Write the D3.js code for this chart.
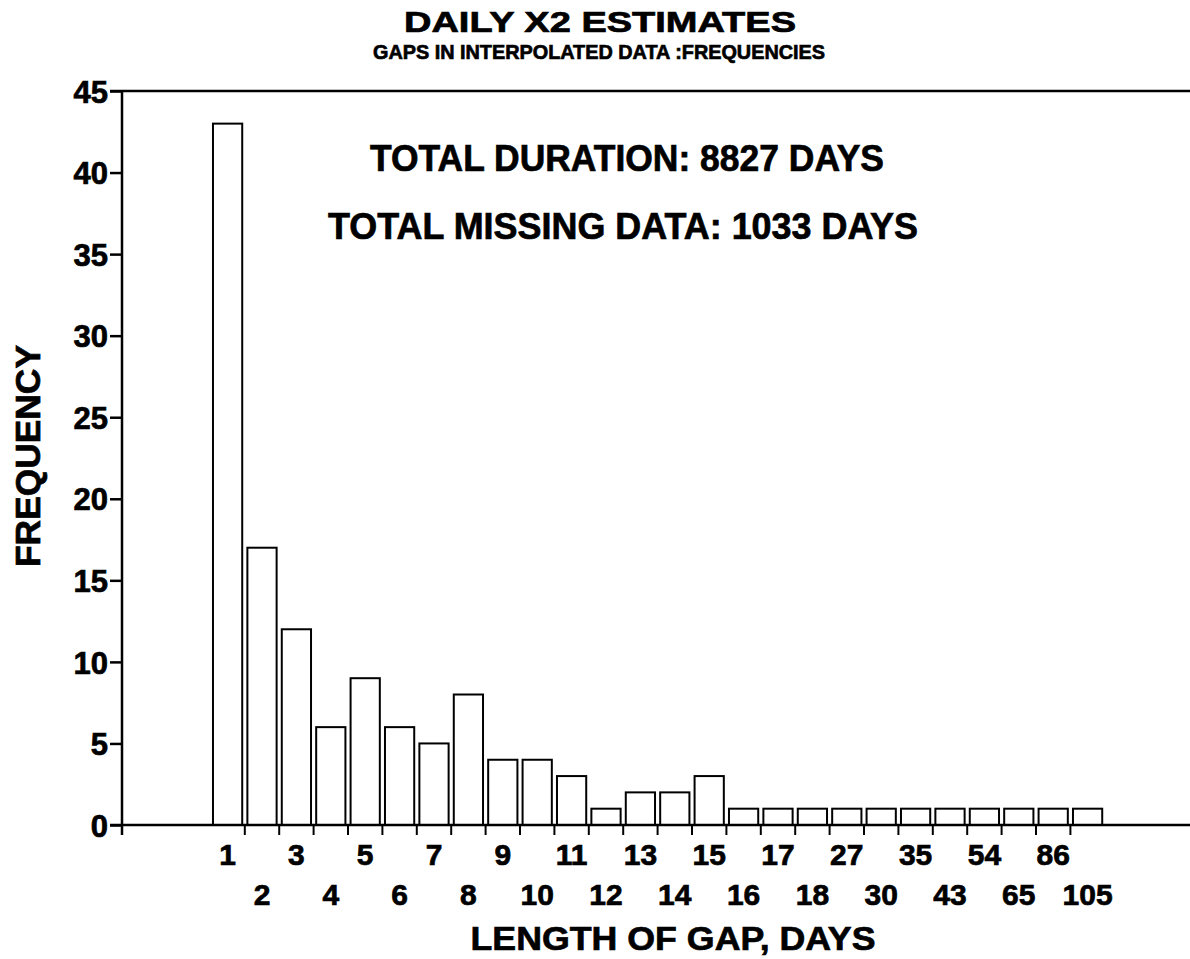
<!DOCTYPE html>
<html>
<head>
<meta charset="utf-8">
<script src="https://cdn.jsdelivr.net/npm/d3@7"></script>
<style>
  html, body { margin: 0; padding: 0; background: #fff; }
  text { font-family: "Liberation Sans", Arial, Helvetica, sans-serif; font-weight: bold; fill: #000; }
  .heavy { stroke: #000; stroke-width: 0.7px; }
</style>
</head>
<body>
<svg id="chart" width="1190" height="959"></svg>
<script>
const categories = ["1","2","3","4","5","6","7","8","9","10","11","12","13","14","15","16","17","18","27","30","35","43","54","65","86","105"];
const frequencies = [43,17,12,6,9,6,5,8,4,4,3,1,2,2,3,1,1,1,1,1,1,1,1,1,1,1];
const yTickValues = [0,5,10,15,20,25,30,35,40,45];
const titleText = "DAILY X2 ESTIMATES";
const subtitleText = "GAPS IN INTERPOLATED DATA :FREQUENCIES";
const notes = ["TOTAL DURATION: 8827 DAYS", "TOTAL MISSING DATA: 1033 DAYS"];
const xTitle = "LENGTH OF GAP, DAYS";
const yTitle = "FREQUENCY";

const svg = d3.select("#chart");
const axisX0 = 122, axisX1 = 1190;

const x = d3.scaleBand().domain(categories).range([210.4, 1104.8]).paddingInner(0.15).paddingOuter(0.075);
const y = d3.scaleLinear().domain([0, 45]).range([825, 91]);

// top frame line
svg.append("line").attr("x1", 110).attr("x2", axisX1).attr("y1", y(45)).attr("y2", y(45))
  .attr("stroke", "#000").attr("stroke-width", 2.5);

// bars
svg.append("g").selectAll("rect").data(categories).join("rect")
  .attr("x", d => x(d))
  .attr("y", (d, i) => y(frequencies[i]))
  .attr("width", x.bandwidth())
  .attr("height", (d, i) => y(0) - y(frequencies[i]))
  .attr("fill", "#fff").attr("stroke", "#000").attr("stroke-width", 2);

// y axis
const yAxis = svg.append("g").attr("transform", `translate(${axisX0},0)`)
  .call(d3.axisLeft(y).tickValues(yTickValues).tickSize(12).tickPadding(2).tickFormat(d3.format("d")));
yAxis.select(".domain").remove();
yAxis.selectAll(".tick line").attr("stroke", "#000").attr("stroke-width", 2.5);
yAxis.selectAll(".tick text").attr("font-size", 31).attr("class", "heavy").attr("dy", "0.36em");
svg.append("line").attr("x1", axisX0).attr("x2", axisX0).attr("y1", y(45)).attr("y2", y(0) + 10)
  .attr("stroke", "#000").attr("stroke-width", 2.5);

// x axis line
svg.append("line").attr("x1", 110).attr("x2", axisX1).attr("y1", y(0)).attr("y2", y(0))
  .attr("stroke", "#000").attr("stroke-width", 2.5);

// x ticks at band boundaries + origin
const step = x.step();
const boundaries = [axisX0].concat(categories.slice(1).map(c => x(c) - step * x.paddingInner() / 2));
svg.append("g").selectAll("line").data(boundaries).join("line")
  .attr("x1", d => d).attr("x2", d => d).attr("y1", y(0)).attr("y2", y(0) + 10)
  .attr("stroke", "#000").attr("stroke-width", 2);

// x tick labels, alternating rows
svg.append("g").selectAll("text").data(categories).join("text")
  .attr("class", "heavy")
  .attr("x", d => x(d) + x.bandwidth() / 2)
  .attr("y", (d, i) => i % 2 === 0 ? 865 : 905)
  .attr("text-anchor", "middle").attr("font-size", 30)
  .text(d => d);

// titles
svg.append("text").attr("class", "heavy").attr("x", 600).attr("y", 32).attr("text-anchor", "middle")
  .attr("font-size", 30).attr("textLength", 392).attr("lengthAdjust", "spacingAndGlyphs").text(titleText);
svg.append("text").attr("class", "heavy").attr("x", 599).attr("y", 59).attr("text-anchor", "middle")
  .attr("font-size", 21).attr("textLength", 452).attr("lengthAdjust", "spacingAndGlyphs").text(subtitleText);

// notes
svg.append("text").attr("class", "heavy").attr("x", 627).attr("y", 171).attr("text-anchor", "middle")
  .attr("font-size", 37).attr("textLength", 514).attr("lengthAdjust", "spacingAndGlyphs").text(notes[0]);
svg.append("text").attr("class", "heavy").attr("x", 623).attr("y", 239).attr("text-anchor", "middle")
  .attr("font-size", 37).attr("textLength", 590).attr("lengthAdjust", "spacingAndGlyphs").text(notes[1]);

// axis titles
svg.append("text").attr("class", "heavy").attr("x", 673).attr("y", 950).attr("text-anchor", "middle")
  .attr("font-size", 34).attr("textLength", 405).attr("lengthAdjust", "spacingAndGlyphs").text(xTitle);
svg.append("text").attr("class", "heavy").attr("transform", "translate(40,456) rotate(-90)")
  .attr("text-anchor", "middle").attr("font-size", 35).attr("textLength", 222).attr("lengthAdjust", "spacingAndGlyphs").text(yTitle);
</script>
</body>
</html>
